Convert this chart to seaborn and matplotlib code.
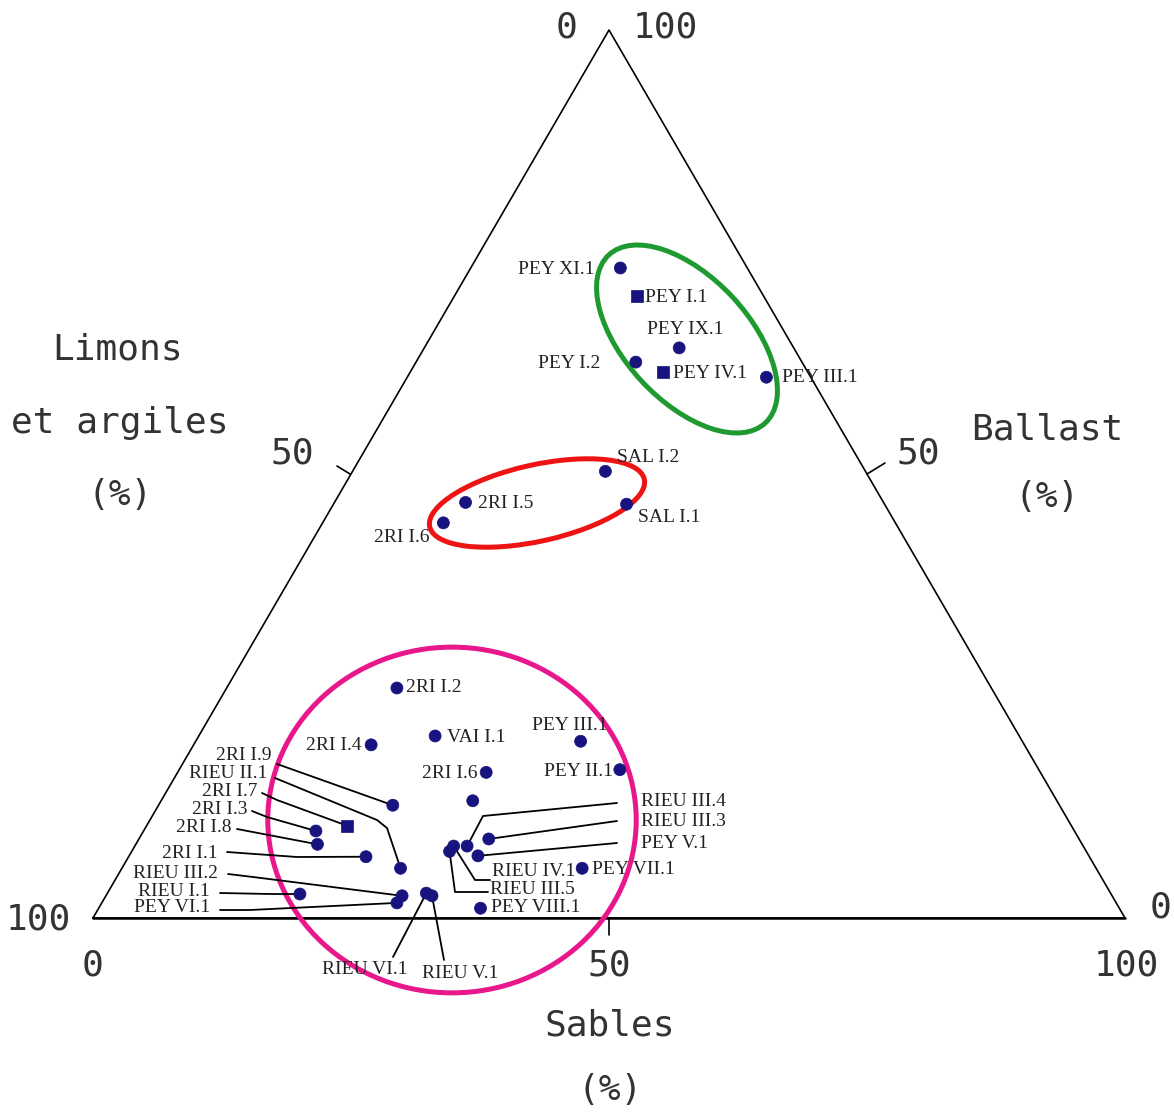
import pandas as pd
import matplotlib
matplotlib.use("Agg")
import matplotlib.pyplot as plt
from matplotlib.patches import Ellipse
import seaborn as sns

names = ["PEY XI.1", "PEY I.1", "PEY IX.1", "PEY I.2", "PEY IV.1", "PEY III.1",
         "SAL I.2", "2RI I.5", "SAL I.1", "2RI I.6",
         "2RI I.2", "2RI I.4", "VAI I.1", "PEY III.1", "PEY II.1", "2RI I.6", "",
         "2RI I.9", "2RI I.7", "2RI I.3", "2RI I.8", "2RI I.1", "RIEU II.1",
         "RIEU III.2", "RIEU I.1", "PEY VI.1", "RIEU VI.1", "RIEU V.1",
         "RIEU III.4", "RIEU III.3", "PEY V.1", "RIEU IV.1", "RIEU III.5",
         "PEY VIII.1", "PEY VII.1"]
sables = [14.5, 17.7, 24.7, 21.3, 24.5, 34.8,
          24.5, 12.7, 28.4, 11.7,
          16.5, 17.2, 22.9, 37.3, 42.7, 29.9, 30.2,
          22.7, 19.4, 16.7, 17.6, 23.0, 27.0,
          28.7, 18.7, 28.6, 30.9, 31.6,
          32.2, 33.9, 33.8, 30.9, 30.8,
          37.0, 44.6]
ballast = [73.2, 70.0, 64.2, 62.6, 61.5, 60.9,
           50.3, 46.8, 46.6, 44.5,
           25.9, 19.5, 20.5, 19.9, 16.7, 16.4, 13.2,
           12.7, 10.4, 9.8, 8.3, 6.9, 5.6,
           2.5, 2.7, 1.7, 2.8, 2.5,
           8.1, 8.9, 7.0, 8.1, 7.5,
           1.1, 5.6]
limons = [12.3, 12.3, 11.1, 16.1, 14.0, 4.3,
          25.2, 40.5, 25.0, 43.8,
          57.6, 63.3, 56.6, 42.8, 40.6, 53.7, 56.6,
          64.6, 70.2, 73.5, 74.1, 70.1, 67.4,
          68.8, 78.6, 69.7, 66.3, 65.9,
          59.7, 57.2, 59.2, 61.0, 61.7,
          61.9, 49.8]
forme = ["rond", "carre", "rond", "rond", "carre", "rond",
         "rond", "rond", "rond", "rond",
         "rond", "rond", "rond", "rond", "rond", "rond", "rond",
         "rond", "carre", "rond", "rond", "rond", "rond",
         "rond", "rond", "rond", "rond", "rond",
         "rond", "rond", "rond", "rond", "rond",
         "rond", "rond"]

SCALE = 10.32          # pixels par unite
HT = 888 / SCALE       # hauteur du triangle


def px(x, y):
    # position en pixels de l'image -> coordonnees du dessin
    return (x - 93) / SCALE, (918 - y) / SCALE


df = pd.DataFrame({"nom": names, "sables": sables, "ballast": ballast,
                   "limons": limons, "forme": forme})
df["x"] = df["sables"] + df["ballast"] / 2
df["y"] = df["ballast"] * HT / 100

# position des etiquettes (pixels) et lignes de rappel
layout = [
    (594, 269, "right", None), (645, 297, "left", None), (647, 330, "left", None),
    (600, 364, "right", None), (673, 373, "left", None), (782, 378, "left", None),
    (617, 457, "left", None), (478, 504, "left", None), (638, 518, "left", None),
    (430, 538, "right", None),
    (406, 688, "left", None), (362, 746, "right", None), (447, 737, "left", None),
    (532, 725, "left", None), (613, 771, "right", None), (477, 774, "right", None),
    None,
    (272, 755, "right", [(277, 764)]),
    (257, 792, "right", [(262, 793), (277, 800)]),
    (248, 810, "right", [(252, 811), (267, 817)]),
    (232, 828, "right", [(237, 829)]),
    (218, 853, "right", [(227, 852), (297, 857)]),
    (267, 773, "right", [(275, 778), (377, 820), (387, 828)]),
    (218, 874, "right", [(228, 874), (253, 877)]),
    (210, 892, "right", [(220, 893), (270, 894)]),
    (210, 908, "right", [(220, 910), (250, 910)]),
    (365, 969, "center", [(393, 957)]),
    (422, 973, "left", [(444, 960)]),
    (641, 802, "left", [(617, 803), (483, 816)]),
    (641, 821, "left", [(617, 821)]),
    (641, 843, "left", [(617, 843)]),
    (492, 872, "left", [(490, 880), (475, 880)]),
    (490, 890, "left", [(488, 892), (455, 892)]),
    (491, 908, "left", None), (592, 869, "left", None),
]

sns.set_style("white")
fig = plt.figure(figsize=(11.74, 11.13), dpi=100)
ax = fig.add_axes([0, 0, 1, 1])

# triangle
ax.plot([0, 100, 50, 0], [0, 0, HT, 0], color="black", lw=1.2, zorder=1)
ax.plot([0, 100], [0, 0], color="black", lw=1.8, zorder=1)
# graduations a 50
ax.plot(*zip(px(350, 474), px(337, 466)), color="black", lw=1.2)
ax.plot(*zip(px(867, 474), px(885, 463)), color="black", lw=1.2)
ax.plot(*zip(px(609, 918), px(609, 935)), color="black", lw=1.2)

# groupes
groupes = [((687, 339), 22.25, 12.0, -47, "#1f9a30"),
           ((537, 503), 21.3, 7.4, 12.5, "#ee1414"),
           ((452, 820), 35.7, 33.5, 0, "#e8188c")]
for (cx, cy), w, h, ang, col in groupes:
    ax.add_patch(Ellipse(px(cx, cy), w, h, angle=ang, fill=False,
                         edgecolor=col, lw=3.6, zorder=2))

# lignes de rappel
for i, lay in enumerate(layout):
    if lay is None or lay[3] is None:
        continue
    pts = [px(*p) for p in lay[3]] + [(df.x[i], df.y[i])]
    ax.plot([p[0] for p in pts], [p[1] for p in pts], color="black", lw=1.3, zorder=3)

sns.scatterplot(data=df, x="x", y="y", style="forme", markers={"rond": "o", "carre": "s"},
                color="#17137f", s=75, edgecolor="#17137f", linewidth=0.5,
                legend=False, ax=ax, zorder=4)

for i, lay in enumerate(layout):
    if lay is None:
        continue
    lx, ly, ha, _ = lay
    ax.text(*px(lx, ly), df.nom[i], ha=ha, va="center", fontsize=14,
            family="Liberation Serif", color="#222222", zorder=5)

# textes des axes
axe_font = dict(family="DejaVu Sans Mono", fontsize=26, color="#333333",
                ha="center", va="center")
for x, y, t in [(566, 28, "0"), (665, 28, "100"), (292, 453, "50"), (918, 453, "50"),
                (38, 920, "100"), (1160, 908, "0"), (93, 965, "0"), (609, 965, "50"),
                (1126, 965, "100")]:
    ax.text(*px(x, y), t, **axe_font)
for x, y, t in [(118, 350, "Limons"), (120, 423, "et argiles"), (120, 495, "(%)"),
                (1047, 430, "Ballast"), (1047, 497, "(%)"),
                (610, 1025, "Sables"), (610, 1090, "(%)")]:
    ax.text(*px(x, y), t, **axe_font)

ax.set_xlim(-93 / SCALE, (1174 - 93) / SCALE)
ax.set_ylim((918 - 1113) / SCALE, 918 / SCALE)
ax.set_aspect("auto")
ax.axis("off")

fig.savefig("out.png", dpi=100, facecolor="white")
